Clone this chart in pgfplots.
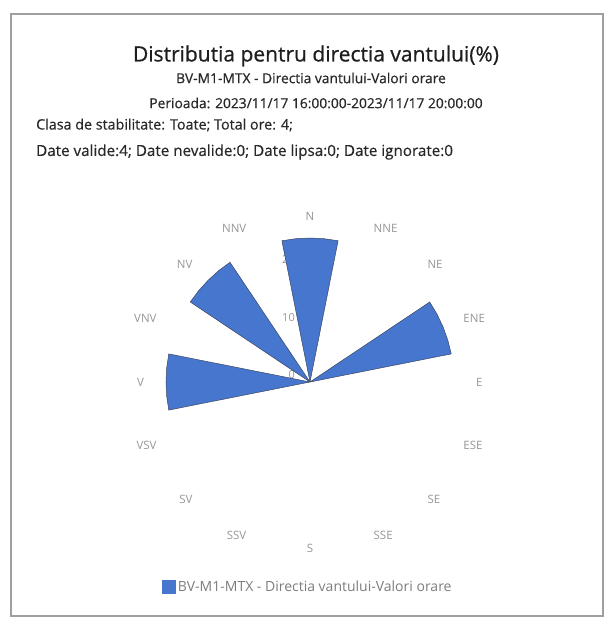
\documentclass[border=0pt]{standalone}
\usepackage{pgfplots}
\pgfplotsset{compat=1.18}
\usepgfplotslibrary{polar}
\usepackage{fontspec}
\setmainfont{Open Sans}
\newfontfamily\semib[FakeBold=0.5]{Open Sans}
\newfontfamily\titlef[FakeBold=0.7]{Open Sans}
\definecolor{barblue}{RGB}{70,118,206}
\definecolor{baredge}{RGB}{60,70,95}
\definecolor{titlec}{RGB}{30,30,30}
\definecolor{subc}{RGB}{40,40,40}
\definecolor{lblgray}{RGB}{150,150,150}
\definecolor{leggray}{RGB}{125,125,125}
\begin{document}
\begin{tikzpicture}[x=1pt,y=1pt]
\useasboundingbox (0,0) rectangle (609,629);
\draw[gray!75, line width=1.3pt] (11,13) rectangle (603,615);
% titles
\node[titlec, font=\titlef\fontsize{21}{24}\selectfont] at (316,573) {Distributia pentru directia vantului(\%)};
\node[subc, font=\semib\fontsize{13.8}{16}\selectfont] at (311,551) {BV-M1-MTX - Directia vantului-Valori orare};
\node[subc, font=\semib\fontsize{13.8}{16}\selectfont] at (316,526) {Perioada: 2023/11/17 16:00:00-2023/11/17 20:00:00};
\node[subc, anchor=west, inner sep=0, font=\semib\fontsize{14.3}{16}\selectfont] at (36,504) {Clasa de stabilitate: Toate; Total ore: 4;};
\node[subc, anchor=west, inner sep=0, font=\semib\fontsize{15.2}{17}\selectfont] at (36,477) {Date valide:4; Date nevalide:0; Date lipsa:0; Date ignorate:0};
% radial tick labels (drawn beneath the bars)
\node[lblgray, anchor=east, inner sep=0, font=\fontsize{11}{13}\selectfont] at (295,254) {0};
\node[lblgray, anchor=east, inner sep=0, font=\fontsize{11}{13}\selectfont] at (295,311) {10};
\node[lblgray, anchor=east, inner sep=0, font=\fontsize{11}{13}\selectfont] at (295,369) {20};
\begin{polaraxis}[
  at={(310pt,247pt)}, anchor=origin,
  scale only axis, width=331.8pt, height=331.8pt,
  ymin=0, ymax=28.8,
  ytick=\empty,
  xtick={0,22.5,45,67.5,292.5,315,337.5},
  xticklabels={E,ENE,NE,NNE,SSE,SE,ESE},
  xticklabel style={anchor=west, inner sep=0pt, text=lblgray, font=\fontsize{11.5}{13}\selectfont},
  extra x ticks={112.5,135,157.5,180,202.5,225,247.5},
  extra x tick labels={NNV,NV,VNV,V,VSV,SV,SSV},
  extra x tick style={xticklabel style={anchor=east}},
  major tick length=0pt,
  grid=none,
  axis line style={draw=none},
  clip=false,
  legend style={draw=none, fill=none, at={(axis description cs:0.5,0)}, anchor=center, yshift=-39pt, xshift=-2pt,
    font=\fontsize{14}{16}\selectfont, text=leggray},
  legend cell align=left,
  legend image code/.code={\fill[barblue] (0pt,-6.5pt) rectangle (13pt,6.5pt);},
]
% N (25 %)
\addplot[fill=barblue, draw=baredge, line width=0.5pt] coordinates {(0,0) (78.75,25) (84.375,25) (90,25) (95.625,25) (101.25,25) (0,0)};
\addlegendentry{BV-M1-MTX - Directia vantului-Valori orare}
% ENE (25 %)
\addplot[fill=barblue, draw=baredge, line width=0.5pt, forget plot] coordinates {(0,0) (11.25,25) (16.875,25) (22.5,25) (28.125,25) (33.75,25) (0,0)};
% NV (25 %)
\addplot[fill=barblue, draw=baredge, line width=0.5pt, forget plot] coordinates {(0,0) (123.75,25) (129.375,25) (135,25) (140.625,25) (146.25,25) (0,0)};
% V (25 %)
\addplot[fill=barblue, draw=baredge, line width=0.5pt, forget plot] coordinates {(0,0) (168.75,25) (174.375,25) (180,25) (185.625,25) (191.25,25) (0,0)};
\node[lblgray, inner sep=0pt, font=\fontsize{11.5}{13}\selectfont] at (axis cs:90,28.8) {N};
\node[lblgray, inner sep=0pt, font=\fontsize{11.5}{13}\selectfont] at (axis cs:270,28.8) {S};
\end{polaraxis}
\end{tikzpicture}
\end{document}
